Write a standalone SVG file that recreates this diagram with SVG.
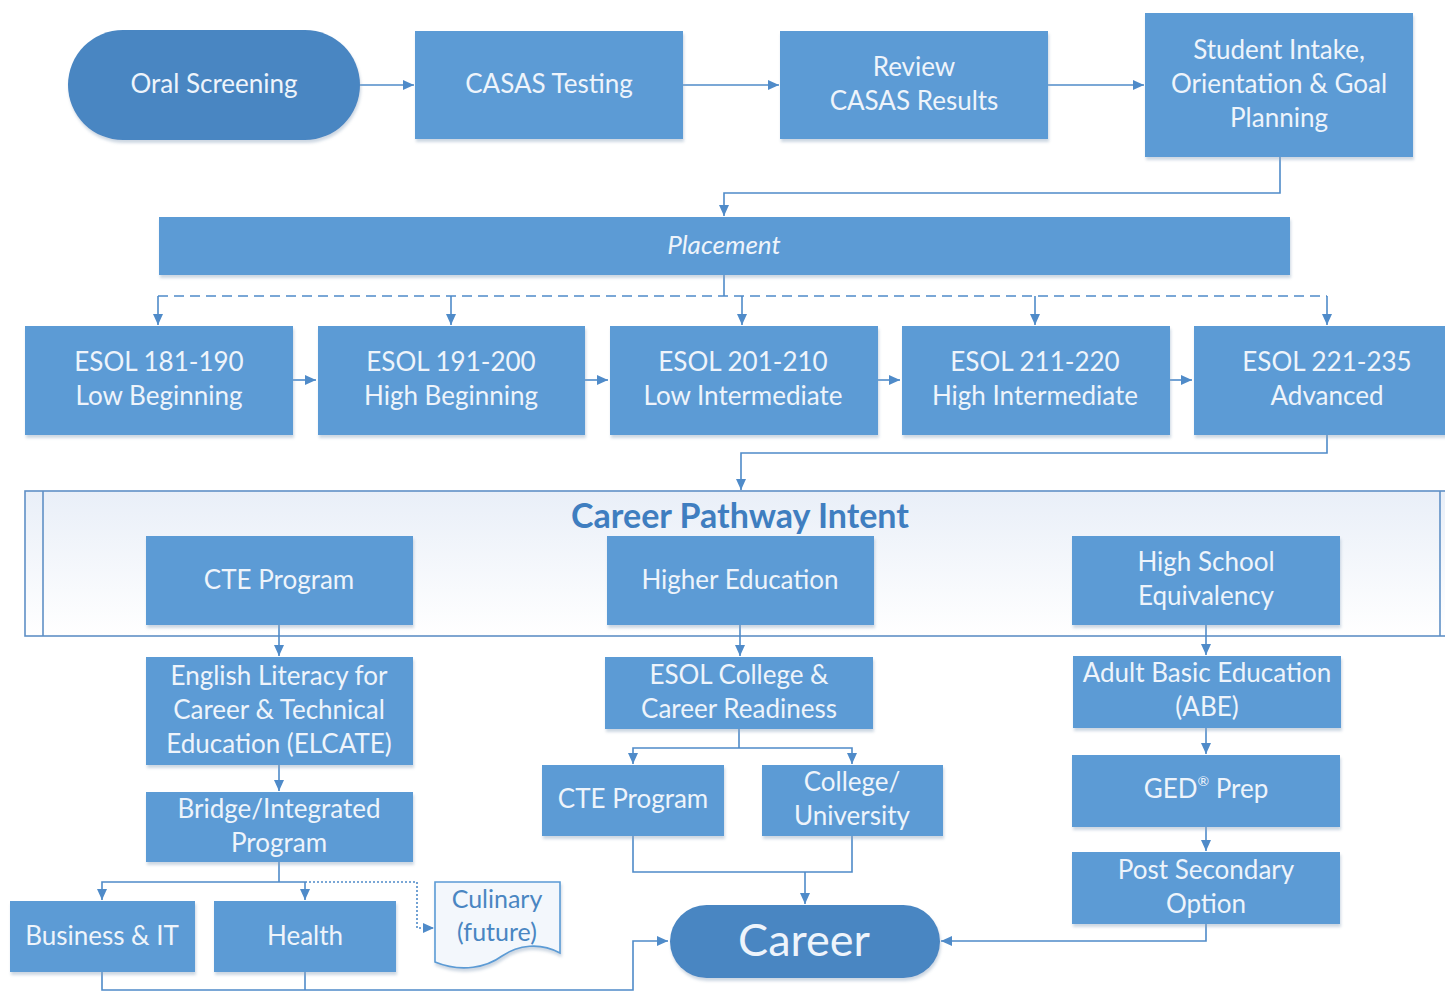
<svg xmlns="http://www.w3.org/2000/svg" width="1445" height="992" viewBox="0 0 1445 992">
<defs>
<marker id="ah" markerUnits="userSpaceOnUse" markerWidth="12" markerHeight="12" refX="11" refY="6" orient="auto">
<path d="M0,1 L11,6 L0,11 Z" fill="#4F8BC9"/>
</marker>
<linearGradient id="cg" x1="0" y1="0" x2="0" y2="1">
<stop offset="0" stop-color="#E9EFF8"/>
<stop offset="1" stop-color="#FFFFFF"/>
</linearGradient>
<filter id="sh" x="-5%" y="-5%" width="110%" height="120%">
<feDropShadow dx="1" dy="3" stdDeviation="1.5" flood-color="#8FA6BF" flood-opacity="0.45"/>
</filter>
</defs>
<style>
.box{fill:#5B9BD5;filter:url(#sh);}
.term{fill:#4A86C2;filter:url(#sh);}
.t{font-family:Lato,"Open Sans",sans-serif;font-size:26px;fill:#EEF4FB;text-anchor:middle;dominant-baseline:central;}
.c{fill:none;stroke:#4F8BC9;stroke-width:1.6;}
.a{marker-end:url(#ah);}
.dash{stroke-dasharray:10,6;}
.dot{stroke-dasharray:2,2;}
</style>
<rect width="1445" height="992" fill="#FFFFFF"/>

<g id="container">
<rect x="25" y="491" width="1440" height="145" fill="url(#cg)" stroke="#5F90C6" stroke-width="1.6"/>
<line x1="43" y1="491" x2="43" y2="636" stroke="#5F90C6" stroke-width="1.6"/>
<line x1="1440" y1="491" x2="1440" y2="636" stroke="#5F90C6" stroke-width="1.6"/>
<text x="740" y="514" style="font-family:Lato,'Open Sans',sans-serif;font-size:34px;font-weight:bold;fill:#3F7EC0;text-anchor:middle;dominant-baseline:central;">Career Pathway Intent</text>
</g>

<g id="connectors">
<line class="c a" x1="360" y1="85" x2="414" y2="85"/>
<line class="c a" x1="683" y1="85" x2="779" y2="85"/>
<line class="c a" x1="1048" y1="85" x2="1144" y2="85"/>
<polyline class="c a" points="1280,157 1280,193 724,193 724,216"/>
<line class="c" x1="724" y1="275" x2="724" y2="296"/>
<line class="c dash" x1="158" y1="296" x2="1327" y2="296"/>
<line class="c a" x1="158" y1="296" x2="158" y2="325"/>
<line class="c a" x1="451" y1="296" x2="451" y2="325"/>
<line class="c a" x1="742" y1="296" x2="742" y2="325"/>
<line class="c a" x1="1035" y1="296" x2="1035" y2="325"/>
<line class="c a" x1="1327" y1="296" x2="1327" y2="325"/>
<line class="c a" x1="293" y1="380" x2="316" y2="380"/>
<line class="c a" x1="585" y1="380" x2="608" y2="380"/>
<line class="c a" x1="878" y1="380" x2="900" y2="380"/>
<line class="c a" x1="1170" y1="380" x2="1192" y2="380"/>
<polyline class="c a" points="1327,435 1327,453 741,453 741,490"/>
<line class="c a" x1="279" y1="625" x2="279" y2="656"/>
<line class="c a" x1="279" y1="765" x2="279" y2="791"/>
<polyline class="c" points="279,862 279,882"/>
<polyline class="c a" points="305,882 102,882 102,900"/>
<line class="c a" x1="305" y1="882" x2="305" y2="900"/>
<polyline class="c dot a" points="305,882 417,882 417,928 434,928"/>
<polyline class="c a" points="102,972 102,990 633,990 633,941 668,941"/>
<line class="c" x1="305" y1="972" x2="305" y2="990"/>
<line class="c a" x1="740" y1="625" x2="740" y2="656"/>
<line class="c" x1="739" y1="729" x2="739" y2="748"/>
<polyline class="c a" points="739,748 633,748 633,764"/>
<polyline class="c a" points="739,748 852,748 852,764"/>
<polyline class="c" points="633,836 633,872 852,872 852,836"/>
<line class="c a" x1="805" y1="872" x2="805" y2="904"/>
<line class="c a" x1="1206" y1="625" x2="1206" y2="655"/>
<line class="c a" x1="1206" y1="728" x2="1206" y2="754"/>
<line class="c a" x1="1206" y1="827" x2="1206" y2="851"/>
<polyline class="c a" points="1206,924 1206,941 941,941"/>
</g>

<g id="oral-screening">
<rect class="term" x="68" y="30" width="292" height="110" rx="55"/>
<text class="t" x="214" y="83">Oral Screening</text>
</g>
<g id="casas-testing">
<rect class="box" x="415" y="31" width="268" height="108"/>
<text class="t" x="549" y="83">CASAS Testing</text>
</g>
<g id="review-casas">
<rect class="box" x="780" y="31" width="268" height="108"/>
<text class="t" x="914" y="66">Review</text>
<text class="t" x="914" y="100">CASAS Results</text>
</g>
<g id="student-intake">
<rect class="box" x="1145" y="13" width="268" height="144"/>
<text class="t" x="1279" y="49">Student Intake,</text>
<text class="t" x="1279" y="83">Orientation &amp; Goal</text>
<text class="t" x="1279" y="117">Planning</text>
</g>
<g id="placement">
<rect class="box" x="159" y="217" width="1131" height="58"/>
<text class="t" x="724" y="244" font-style="italic" font-size="27">Placement</text>
</g>
<g id="esol-181">
<rect class="box" x="25" y="326" width="268" height="109"/>
<text class="t" x="159" y="361">ESOL 181-190</text>
<text class="t" x="159" y="395">Low Beginning</text>
</g>
<g id="esol-191">
<rect class="box" x="318" y="326" width="267" height="109"/>
<text class="t" x="451" y="361">ESOL 191-200</text>
<text class="t" x="451" y="395">High Beginning</text>
</g>
<g id="esol-201">
<rect class="box" x="610" y="326" width="268" height="109"/>
<text class="t" x="743" y="361">ESOL 201-210</text>
<text class="t" x="743" y="395">Low Intermediate</text>
</g>
<g id="esol-211">
<rect class="box" x="902" y="326" width="268" height="109"/>
<text class="t" x="1035" y="361">ESOL 211-220</text>
<text class="t" x="1035" y="395">High Intermediate</text>
</g>
<g id="esol-221">
<rect class="box" x="1194" y="326" width="268" height="109"/>
<text class="t" x="1327" y="361">ESOL 221-235</text>
<text class="t" x="1327" y="395">Advanced</text>
</g>
<g id="cte-program">
<rect class="box" x="146" y="536" width="267" height="89"/>
<text class="t" x="279" y="579">CTE Program</text>
</g>
<g id="higher-education">
<rect class="box" x="607" y="536" width="267" height="89"/>
<text class="t" x="740" y="579">Higher Education</text>
</g>
<g id="high-school-equivalency">
<rect class="box" x="1072" y="536" width="268" height="89"/>
<text class="t" x="1206" y="561">High School</text>
<text class="t" x="1206" y="595">Equivalency</text>
</g>
<g id="elcate">
<rect class="box" x="146" y="657" width="267" height="108"/>
<text class="t" x="279" y="675">English Literacy for</text>
<text class="t" x="279" y="709">Career &amp; Technical</text>
<text class="t" x="279" y="743">Education (ELCATE)</text>
</g>
<g id="bridge">
<rect class="box" x="146" y="792" width="267" height="70"/>
<text class="t" x="279" y="808">Bridge/Integrated</text>
<text class="t" x="279" y="842">Program</text>
</g>
<g id="business-it">
<rect class="box" x="10" y="901" width="185" height="71"/>
<text class="t" x="102" y="935">Business &amp; IT</text>
</g>
<g id="health">
<rect class="box" x="214" y="901" width="182" height="71"/>
<text class="t" x="305" y="935">Health</text>
</g>
<g id="culinary">
<path d="M435,882 H560 V953 C540,942 518,945 502,956 C487,967 462,973 435,962 Z" fill="#F3F7FC" stroke="#5B9BD5" stroke-width="1.6" filter="url(#sh)"/>
<text class="t" x="497" y="898" style="fill:#4A86C2;font-size:25px">Culinary</text>
<text class="t" x="497" y="931" style="fill:#4A86C2;font-size:25px">(future)</text>
</g>
<g id="esol-college">
<rect class="box" x="605" y="657" width="268" height="72"/>
<text class="t" x="739" y="674">ESOL College &amp;</text>
<text class="t" x="739" y="708">Career Readiness</text>
</g>
<g id="cte-program-2">
<rect class="box" x="542" y="765" width="182" height="71"/>
<text class="t" x="633" y="798">CTE Program</text>
</g>
<g id="college-university">
<rect class="box" x="762" y="765" width="181" height="71"/>
<text class="t" x="852" y="781">College/</text>
<text class="t" x="852" y="815">University</text>
</g>
<g id="abe">
<rect class="box" x="1073" y="656" width="268" height="72"/>
<text class="t" x="1207" y="672">Adult Basic Education</text>
<text class="t" x="1207" y="706">(ABE)</text>
</g>
<g id="ged-prep">
<rect class="box" x="1072" y="755" width="268" height="72"/>
<text class="t" x="1206" y="788">GED<tspan font-size="14" dy="-8">®</tspan><tspan dy="8">  Prep</tspan></text>
</g>
<g id="post-secondary">
<rect class="box" x="1072" y="852" width="268" height="72"/>
<text class="t" x="1206" y="869">Post Secondary</text>
<text class="t" x="1206" y="903">Option</text>
</g>
<g id="career">
<rect class="term" x="670" y="905" width="270" height="73" rx="36.5"/>
<text class="t" x="804" y="939" style="font-size:45px">Career</text>
</g>
</svg>
